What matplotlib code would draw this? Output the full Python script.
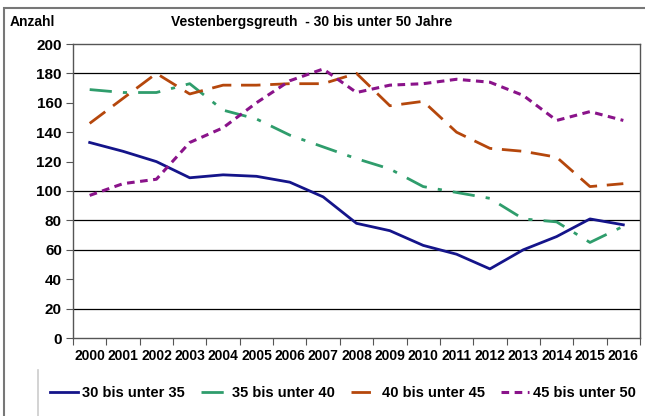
""" Altersgruppen 30 bis unter 50 Jahre, Vestenbergsgreuth """

import matplotlib.pyplot as plt
from matplotlib.lines import Line2D
from matplotlib.patches import Rectangle

years = list(range(2000, 2017))
labels = ['30 bis unter 35', '35 bis unter 40', '40 bis unter 45', '45 bis unter 50']

age_30_35 = [133, 127, 120, 109, 111, 110, 106, 96, 78, 73, 63, 57, 47, 60, 69, 81, 77]
age_35_40 = [169, 167, 167, 173, 155, 149, 138, 130, 122, 115, 103, 99, 95, 81, 79, 65, 76]
age_40_45 = [146, 163, 180, 166, 172, 172, 173, 173, 180, 158, 161, 140, 129, 127, 123, 103, 105]
age_45_50 = [97, 105, 108, 133, 143, 160, 175, 183, 167, 172, 173, 176, 174, 165, 148, 154, 148]

# gridlines that show up in the original
grid_vals = [20, 60, 80, 100, 180]

plt.rcParams['font.family'] = ['Liberation Sans', 'DejaVu Sans']
plt.rcParams['font.weight'] = 'bold'

W, H = 645, 416
fig = plt.figure(figsize=(W / 100, H / 100), dpi=100)
ax = fig.add_axes([73 / W, 1 - 338 / H, (640 - 73) / W, (338 - 44) / H])

x = list(range(len(years)))
ax.plot(x, age_30_35, color='#14148a', lw=2.0, ls='-', label=labels[0])
ax.plot(x, age_35_40, color='#2f9d6c', lw=2.0, ls=(0, (8, 4, 1.5, 4)), label=labels[1])
ax.plot(x, age_40_45, color='#b5470c', lw=2.0, ls=(0, (7, 3.5)), label=labels[2])
ax.plot(x, age_45_50, color='#8a138a', lw=2.2, ls=(0, (2.5, 1.8)), label=labels[3])

for g in grid_vals:
    ax.axhline(g, color='black', lw=0.9, zorder=0)

ax.set_ylim(0, 200)
ax.set_yticks(range(0, 201, 20))
ax.set_xlim(-0.5, len(years) - 0.5)
ax.set_xticks([i - 0.5 for i in range(len(years) + 1)])
ax.set_xticklabels([])
ax.set_xticks(x, minor=True)
ax.set_xticklabels([str(y) for y in years], minor=True)
ax.tick_params(axis='x', which='minor', length=0, pad=8, labelsize=10)
ax.tick_params(axis='x', which='major', length=5, direction='out', color='#555555')
ax.tick_params(axis='y', length=5, direction='out', labelsize=11, color='#555555', pad=3)
for s in ax.spines.values():
    s.set_color('#555555')
    s.set_linewidth(1.0)

fig.text(10 / W, 1 - 22 / H, 'Anzahl', fontsize=10, fontweight='bold', va='center')
fig.text(312 / W, 1 - 22 / H, 'Vestenbergsgreuth  - 30 bis unter 50 Jahre',
         fontsize=10, fontweight='bold', ha='center', va='center')

# outer chart border and legend box edge
fig.patches.append(Rectangle((4 / W, -0.1), 1.2, 1 - 8 / H + 0.1, transform=fig.transFigure,
                             fill=False, edgecolor='#777777', lw=1.5))
fig.lines.append(Line2D([38 / W, 38 / W], [0, 1 - 370 / H], transform=fig.transFigure,
                        color='#cccccc', lw=1.2))

handles, lbls = ax.get_legend_handles_labels()
fig.legend(handles, lbls, loc='center', bbox_to_anchor=(343 / W, 1 - 393 / H), ncol=4,
           frameon=False, fontsize=10.5, handlelength=1.9, handletextpad=0.25,
           columnspacing=1.1, borderpad=0)

fig.savefig('out.png', dpi=100)
